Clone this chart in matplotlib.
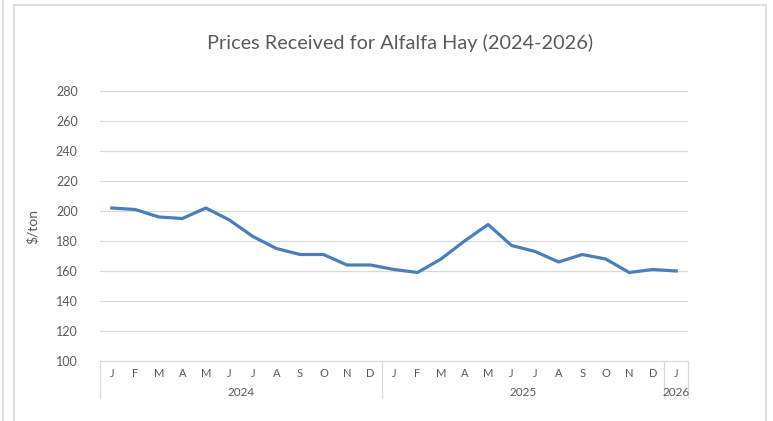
import numpy as np
import matplotlib.pyplot as plt
from matplotlib.lines import Line2D
import matplotlib.transforms as mtransforms

plt.rcParams['font.family'] = ['Lato', 'DejaVu Sans']

# Monthly alfalfa hay prices, $/ton
months = ['J', 'F', 'M', 'A', 'M', 'J', 'J', 'A', 'S', 'O', 'N', 'D',
          'J', 'F', 'M', 'A', 'M', 'J', 'J', 'A', 'S', 'O', 'N', 'D',
          'J']
years = ['2024', '2025', '2026']
months_per_year = [12, 12, 1]
prices = [202, 201, 196, 195, 202, 194, 183, 175, 171, 171, 164, 164,
          161, 159, 168, 180, 191, 177, 173, 166, 171, 168, 159, 161,
          160]

W, H = 773, 421
fig = plt.figure(figsize=(W / 100, H / 100), dpi=100)

def px(x0, y0, x1, y1):
    # pixel box (top-left origin) -> figure fractions
    return [x0 / W, 1 - y1 / H, (x1 - x0) / W, (y1 - y0) / H]

ax = fig.add_axes(px(100, 91, 688, 361))
text_col = '#595959'
grid_col = '#d9d9d9'

x = np.arange(len(prices))
ax.plot(x, prices, color='#4a7ebb', lw=2.3, solid_joinstyle='round')
ax.set_xlim(-0.5, len(prices) - 0.5)
ax.set_ylim(100, 280)
ax.set_yticks(np.arange(100, 281, 20))
ax.yaxis.grid(True, color=grid_col, lw=0.9)
ax.set_axisbelow(True)
for s in ['top', 'right', 'left']:
    ax.spines[s].set_visible(False)
ax.spines['bottom'].set_color(grid_col)
ax.tick_params(axis='y', length=0, pad=16, labelsize=9, labelcolor=text_col)
ax.tick_params(axis='x', length=0, labelbottom=False)

ax.set_ylabel('$/ton', color=text_col, fontsize=10, labelpad=12)

# two-level category axis: months, then year groups with separators
trans = mtransforms.blended_transform_factory(ax.transData, ax.transAxes)
for i, m in enumerate(months):
    ax.text(i, -0.045, m, transform=trans, ha='center', va='center',
            fontsize=8, color=text_col)
start = 0
bounds = [0]
for yr, n in zip(years, months_per_year):
    ax.text(start + (n - 1) / 2, -0.115, yr, transform=trans, ha='center',
            va='center', fontsize=8.5, color=text_col)
    start += n
    bounds.append(start)
for b in bounds:
    ax.add_line(Line2D([b - 0.5, b - 0.5], [0, -0.137], transform=trans,
                       color=grid_col, lw=0.9, clip_on=False))

fig.text(400 / W, 1 - 43 / H, 'Prices Received for Alfalfa Hay (2024-2026)',
         ha='center', va='center', fontsize=14.3, color=text_col)

# chart frame
frame = dict(transform=fig.transFigure, color='#d9d9d9', lw=1.2)
fig.add_artist(Line2D([14 / W, 766 / W], [1 - 5 / H, 1 - 5 / H], **frame))
fig.add_artist(Line2D([14 / W, 14 / W], [1 - 5 / H, 0], **frame))
fig.add_artist(Line2D([766 / W, 766 / W], [1 - 5 / H, 0], **frame))
fig.add_artist(Line2D([3 / W, 3 / W], [1, 0], **frame))

fig.savefig('out.png', dpi=100)
